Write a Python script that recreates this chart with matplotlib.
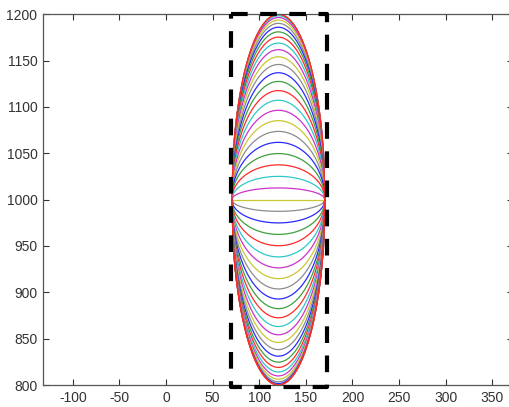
#!/usr/bin/env python3
"""Family of projected circle arcs inside a dashed bounding box (MATLAB-style figure)."""
import numpy as np
import matplotlib
matplotlib.use("Agg")
import matplotlib.pyplot as plt

# peak heights of each arc, top to bottom
peaks = [1200.0, 1199.6, 1198.4, 1196.5, 1193.7, 1190.2, 1186.0, 1181.0, 1175.3,
         1168.9, 1161.8, 1154.1, 1145.8, 1136.9, 1127.5, 1117.6, 1107.2, 1096.4,
         1085.2, 1073.6, 1061.8, 1049.7, 1037.5, 1025.1, 1012.6, 1000.0,
         987.4, 974.9, 962.5, 950.3, 938.2, 926.4, 914.8, 903.6, 892.8, 882.4,
         872.5, 863.1, 854.2, 845.9, 838.2, 831.1, 824.7, 819.0, 814.0, 809.8,
         806.3, 803.5, 801.6, 800.4, 800.0]
x_left, x_right = 70.5, 170.5
y_mid = 1000
# dashed box corners
box_x = [70, 173, 173, 70, 70]
box_y = [1200, 1200, 798, 798, 1200]
color_cycle = ["#2a2aff", "#3f9f3f", "#ff2a2a", "#2fc8c8", "#cc33cc", "#c8c832", "#8c8c8c"]

xticks = [-100, -50, 0, 50, 100, 150, 200, 250, 300, 350]
yticks = [800, 850, 900, 950, 1000, 1050, 1100, 1150, 1200]


def main():
    plt.rcParams["font.family"] = ["Liberation Sans", "DejaVu Sans"]
    plt.rcParams["axes.unicode_minus"] = False
    fig = plt.figure(figsize=(5.09, 4.07), dpi=100)
    ax = fig.add_axes([0.0845, 0.054, 0.923, 0.911])

    xc = (x_left + x_right) / 2
    hw = (x_right - x_left) / 2
    x = np.linspace(x_left, x_right, 60)
    shape = np.sqrt(np.clip(1 - ((x - xc) / hw) ** 2, 0, None))

    for k, p in enumerate(peaks):
        col = color_cycle[(k - 20) % len(color_cycle)]
        ax.plot(x, y_mid + (p - y_mid) * shape, color=col, lw=0.9)
    # outline
    ax.plot(x, y_mid + (peaks[0] - y_mid) * shape, color="#ff2a2a", lw=1.0)
    ax.plot(x, y_mid + (peaks[-1] - y_mid) * shape, color="#ff2a2a", lw=1.0)

    ax.plot(box_x, box_y, color="black", lw=3, linestyle=(0, (4, 3)),
            clip_on=False, zorder=5)

    ax.set_xlim(-132, 372)
    ax.set_ylim(800, 1200)
    ax.set_xticks(xticks)
    ax.set_yticks(yticks)
    ax.tick_params(direction="in", length=4, width=0.8, labelsize=10,
                   top=True, right=True, colors="#333333", pad=4)
    for s in ax.spines.values():
        s.set_color("#555555")
        s.set_linewidth(0.9)

    fig.savefig("out.png", dpi=100)


if __name__ == "__main__":
    main()
